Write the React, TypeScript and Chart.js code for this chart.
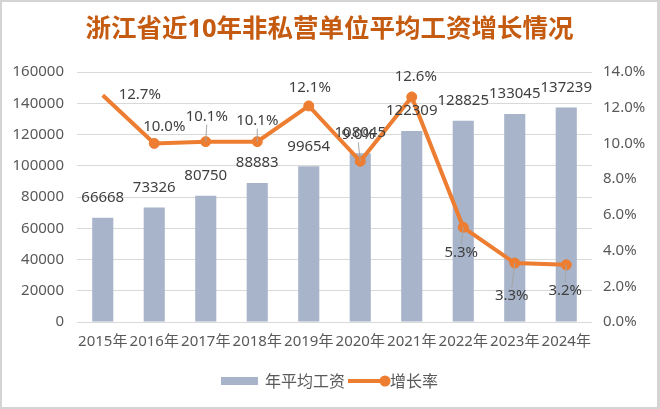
import { useEffect, useRef } from 'react'
import { Chart, registerables, Plugin } from 'chart.js'

Chart.register(...registerables)

const TITLE = '浙江省近10年非私营单位平均工资增长情况'
const years = ['2015年', '2016年', '2017年', '2018年', '2019年', '2020年', '2021年', '2022年', '2023年', '2024年']
const wages = [66668, 73326, 80750, 88883, 99654, 108045, 122309, 128825, 133045, 137239]
const growth = [12.7, 10.0, 10.1, 10.1, 12.1, 9.0, 12.6, 5.3, 3.3, 3.2]
const wageMax = 160000
const wageStep = 20000
const growthMax = 14
const growthStep = 2
const seriesNames = ['年平均工资', '增长率']

// where each growth label sits relative to its point (excel moved some by hand)
const growthLabelOffset: [number, number, boolean][] = [
  [37, 0, false], [10, -17, false], [1, -25, true], [0, -21, true], [1, -18, false],
  [-2, -27, true], [4, -20, false], [-2, 25, true], [-3, 33, true], [-1, 26, true],
]

const BAR = '#a7b4c9'
const ORANGE = '#ed7d31'
const TICK = '#595959'
const LABEL = '#404040'
const FONT = '"Noto Sans", "Noto Sans CJK SC", sans-serif'

const labelsPlugin: Plugin<'bar'> = {
  id: 'labels',
  afterDraw(chart) {
    const ctx = chart.ctx
    const w = chart.width
    ctx.save()

    // title
    ctx.fillStyle = '#c55a11'
    ctx.font = `bold 25.5px ${FONT}`
    ctx.textAlign = 'center'
    ctx.textBaseline = 'middle'
    ctx.fillText(TITLE, w / 2, 28)

    // bar values
    ctx.font = `15px ${FONT}`
    ctx.fillStyle = LABEL
    const bars = chart.getDatasetMeta(0).data
    bars.forEach((el, i) => {
      ctx.fillText(String(wages[i]), el.x, el.y - 20)
    })

    // growth values
    const pts = chart.getDatasetMeta(1).data
    pts.forEach((el, i) => {
      const [dx, dy, leader] = growthLabelOffset[i]
      const tx = el.x + dx
      const ty = el.y + dy
      if (leader) {
        ctx.strokeStyle = '#a6a6a6'
        ctx.lineWidth = 1
        ctx.beginPath()
        ctx.moveTo(el.x, el.y)
        ctx.lineTo(tx, ty + (dy < 0 ? 8 : -8))
        ctx.stroke()
      }
      ctx.fillStyle = LABEL
      ctx.fillText(growth[i].toFixed(1) + '%', tx, ty)
    })

    // legend
    ctx.font = `16px ${FONT}`
    ctx.fillStyle = TICK
    ctx.textAlign = 'left'
    const t1 = ctx.measureText(seriesNames[0]).width
    const t2 = ctx.measureText(seriesNames[1]).width
    const total = 37 + 7 + t1 + 3 + 42 + t2
    let x = w / 2 - total / 2
    const ly = 379
    ctx.fillStyle = BAR
    ctx.fillRect(x, ly - 4, 37, 8)
    x += 44
    ctx.fillStyle = TICK
    ctx.fillText(seriesNames[0], x, ly + 1)
    x += t1 + 3
    ctx.strokeStyle = ORANGE
    ctx.lineWidth = 4
    ctx.beginPath()
    ctx.moveTo(x, ly)
    ctx.lineTo(x + 38, ly)
    ctx.stroke()
    ctx.fillStyle = ORANGE
    ctx.beginPath()
    ctx.arc(x + 37, ly, 5.5, 0, Math.PI * 2)
    ctx.fill()
    x += 42
    ctx.fillStyle = TICK
    ctx.fillText(seriesNames[1], x, ly + 1)

    ctx.restore()
  },
}

export default function App() {
  const canvasRef = useRef<HTMLCanvasElement>(null)

  useEffect(() => {
    document.body.style.margin = '0'
    if (!canvasRef.current) return
    const tickFont = { family: FONT, size: 15 }

    const chart = new Chart(canvasRef.current, {
      type: 'bar',
      data: {
        labels: years,
        datasets: [
          {
            type: 'bar',
            label: seriesNames[0],
            data: wages,
            backgroundColor: BAR,
            yAxisID: 'y',
            barPercentage: 0.41,
            categoryPercentage: 1,
            order: 1,
          },
          {
            type: 'line',
            label: seriesNames[1],
            data: growth,
            borderColor: ORANGE,
            backgroundColor: ORANGE,
            borderWidth: 4,
            pointRadius: growth.map((_, i) => (i === 0 ? 0 : 5)),
            pointBorderWidth: 1,
            pointBorderColor: ORANGE,
            pointBackgroundColor: ORANGE,
            yAxisID: 'y1',
            order: 0,
          } as any,
        ],
      },
      options: {
        animation: false,
        responsive: true,
        maintainAspectRatio: false,
        layout: { padding: { top: 70, left: 0, right: 0, bottom: 0 } },
        plugins: {
          legend: { display: false },
          title: { display: false },
          tooltip: { enabled: false },
        },
        scales: {
          x: {
            grid: { display: false, drawTicks: false },
            border: { display: false },
            ticks: { color: TICK, font: tickFont, padding: 11, autoSkip: false, maxRotation: 0, minRotation: 0 },
            afterFit: (s: any) => { s.height = 85 },
          },
          y: {
            position: 'left',
            min: 0,
            max: wageMax,
            grid: { color: '#d9d9d9', drawTicks: false },
            border: { display: false },
            ticks: {
              stepSize: wageStep,
              color: TICK,
              font: tickFont,
              padding: 13,
              callback: (v: any) => String(v),
            },
            afterFit: (s: any) => { s.width = 75 },
          },
          y1: {
            position: 'right',
            min: 0,
            max: growthMax,
            grid: { display: false, drawTicks: false },
            border: { display: false },
            ticks: {
              stepSize: growthStep,
              color: TICK,
              font: tickFont,
              padding: 11,
              callback: (v: any) => Number(v).toFixed(1) + '%',
            },
            afterFit: (s: any) => { s.width = 65 },
          },
        },
      },
      plugins: [labelsPlugin as any],
    })

    return () => chart.destroy()
  }, [])

  return (
    <div
      style={{
        width: 660,
        height: 409,
        boxSizing: 'border-box',
        border: '2px solid #d4d4d4',
        borderRightWidth: 3,
        background: '#fff',
      }}
    >
      <div style={{ position: 'relative', width: '100%', height: '100%' }}>
        <canvas ref={canvasRef} role="img" aria-label="浙江省近10年非私营单位平均工资与增长率组合图" />
      </div>
    </div>
  )
}
